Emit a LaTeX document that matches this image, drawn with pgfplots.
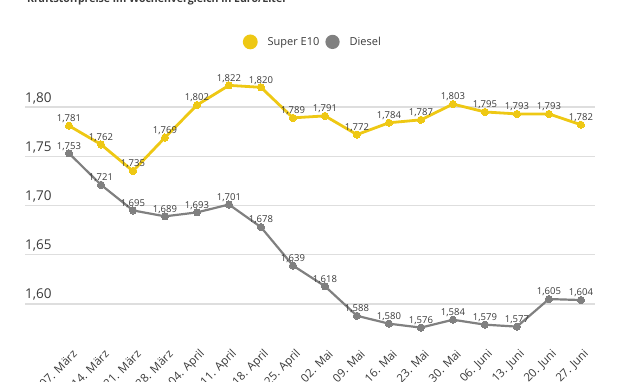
\documentclass[border=0pt]{standalone}
\usepackage{pgfplots}
\pgfplotsset{compat=1.18}
\usepackage{fontspec}
\setmainfont{Open Sans}
\definecolor{adacyellow}{HTML}{EEC814}
\definecolor{dgray}{HTML}{808080}
\definecolor{gridc}{HTML}{DEDEDE}
\definecolor{txt}{HTML}{3A3A3A}
\begin{document}
\begin{tikzpicture}
\clip (0pt,0pt) rectangle (630pt,381pt);
\node[anchor=base west, font=\bfseries\fontsize{10.5}{12}\selectfont, text=txt, inner sep=0pt] at (27pt,378pt) {Kraftstoffpreise im Wochenvergleich in Euro/Liter};
\begin{axis}[
  at={(25pt,46pt)}, anchor=south west,
  scale only axis, width=570pt, height=265pt,
  xmin=-1.375, xmax=16.44,
  ymin=1.5685, ymax=1.8376,
  axis line style={draw=none},
  tick style={draw=none},
  ymajorgrids, grid style={gridc, line width=1.3pt},
  ytick={1.60,1.65,1.70,1.75,1.80},
  yticklabel={\pgfmathprintnumber[fixed,fixed zerofill,precision=2,use comma,assume math mode=true]{\tick}},
  yticklabel style={anchor=base west, inner sep=0pt, yshift=5pt, font=\fontsize{13.5}{15}\selectfont, text=txt},
  xtick={0,...,16},
  xticklabels={07. März,14. März,21. März,28. März,04. April,11. April,18. April,25. April,02. Mai,09. Mai,16. Mai,23. Mai,30. Mai,06. Juni,13. Juni,20. Juni,27. Juni},
  xticklabel style={xshift=6pt, yshift=-17pt, rotate=45, anchor=east, inner sep=0pt, font=\fontsize{11.5}{13}\selectfont, text=txt},
  nodes near coords={\pgfmathprintnumber[fixed,fixed zerofill,precision=3,use comma,assume math mode=true]{\pgfplotspointmeta}},
  every node near coord/.append style={font=\fontsize{9.5}{11}\selectfont, text=txt, anchor=south, inner sep=1pt, yshift=2pt},
  legend columns=2,
  legend style={at={(0.505,1.106)}, anchor=center, draw=none, fill=none, font=\fontsize{11}{13}\selectfont, text=txt,
    /tikz/every odd column/.append style={column sep=8pt},
    /tikz/every even column/.append style={column sep=4pt}},
  legend image code/.code={\fill[#1] (0pt,0pt) circle (6pt);},
]
\addplot[adacyellow, line width=2.8pt, mark=*, mark size=3.6pt, mark options={line width=0pt}] coordinates {
(0,1.781)(1,1.762)(2,1.735)(3,1.769)(4,1.802)(5,1.822)(6,1.820)(7,1.789)(8,1.791)(9,1.772)(10,1.784)(11,1.787)(12,1.803)(13,1.795)(14,1.793)(15,1.793)(16,1.782)};
\addlegendentry{Super E10}
\addplot[dgray, line width=2.2pt, mark=*, mark size=3.6pt, mark options={line width=0pt}] coordinates {
(0,1.753)(1,1.721)(2,1.695)(3,1.689)(4,1.693)(5,1.701)(6,1.678)(7,1.639)(8,1.618)(9,1.588)(10,1.580)(11,1.576)(12,1.584)(13,1.579)(14,1.577)(15,1.605)(16,1.604)};
\addlegendentry{Diesel}
\end{axis}
\end{tikzpicture}
\end{document}
